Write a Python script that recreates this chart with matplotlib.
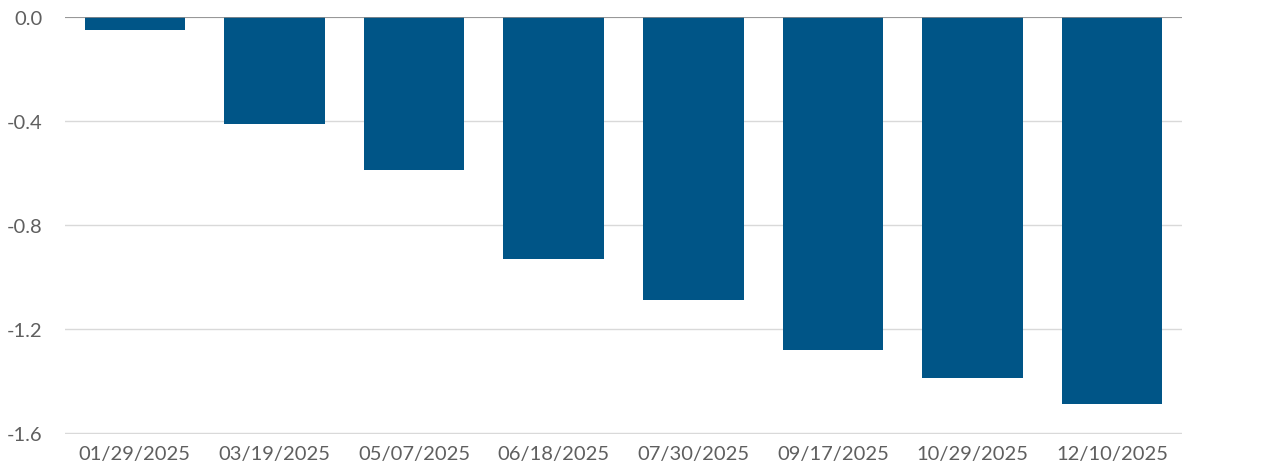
import matplotlib
matplotlib.use("Agg")
import matplotlib.pyplot as plt

# values
dates = ["01/29/2025", "03/19/2025", "05/07/2025", "06/18/2025",
         "07/30/2025", "09/17/2025", "10/29/2025", "12/10/2025"]
values = [-0.05, -0.41, -0.59, -0.93, -1.09, -1.28, -1.39, -1.49]
yticks = [0.0, -0.4, -0.8, -1.2, -1.6]

BAR_COLOR = "#005587"
TEXT_COLOR = "#5f5f5f"

plt.rcParams["font.family"] = ["Lato", "DejaVu Sans"]

W, H = 1280, 477
fig = plt.figure(figsize=(W / 100, H / 100), dpi=100)
ax = fig.add_axes([65 / W, 1 - 435 / H, (1182 - 65) / W, (435 - 18) / H])

x = list(range(len(dates)))
ax.bar(x, values, width=0.72, color=BAR_COLOR, zorder=3)

ax.set_xlim(-0.5, len(dates) - 0.5)
ax.set_ylim(-1.604, 0.0)
ax.set_yticks(yticks)
ax.set_yticklabels([f"{v:.1f}" for v in yticks])
ax.set_xticks(x)
ax.set_xticklabels(dates)

ax.grid(axis="y", color="#d9d9d9", linewidth=1, zorder=0)
ax.axhline(0, color="#8c8c8c", linewidth=1.2, zorder=4)
for s in ax.spines.values():
    s.set_visible(False)
ax.tick_params(axis="both", length=0, labelsize=14.5, colors=TEXT_COLOR)
ax.tick_params(axis="y", pad=16)
ax.tick_params(axis="x", pad=8)

fig.savefig("out.png", dpi=100)
